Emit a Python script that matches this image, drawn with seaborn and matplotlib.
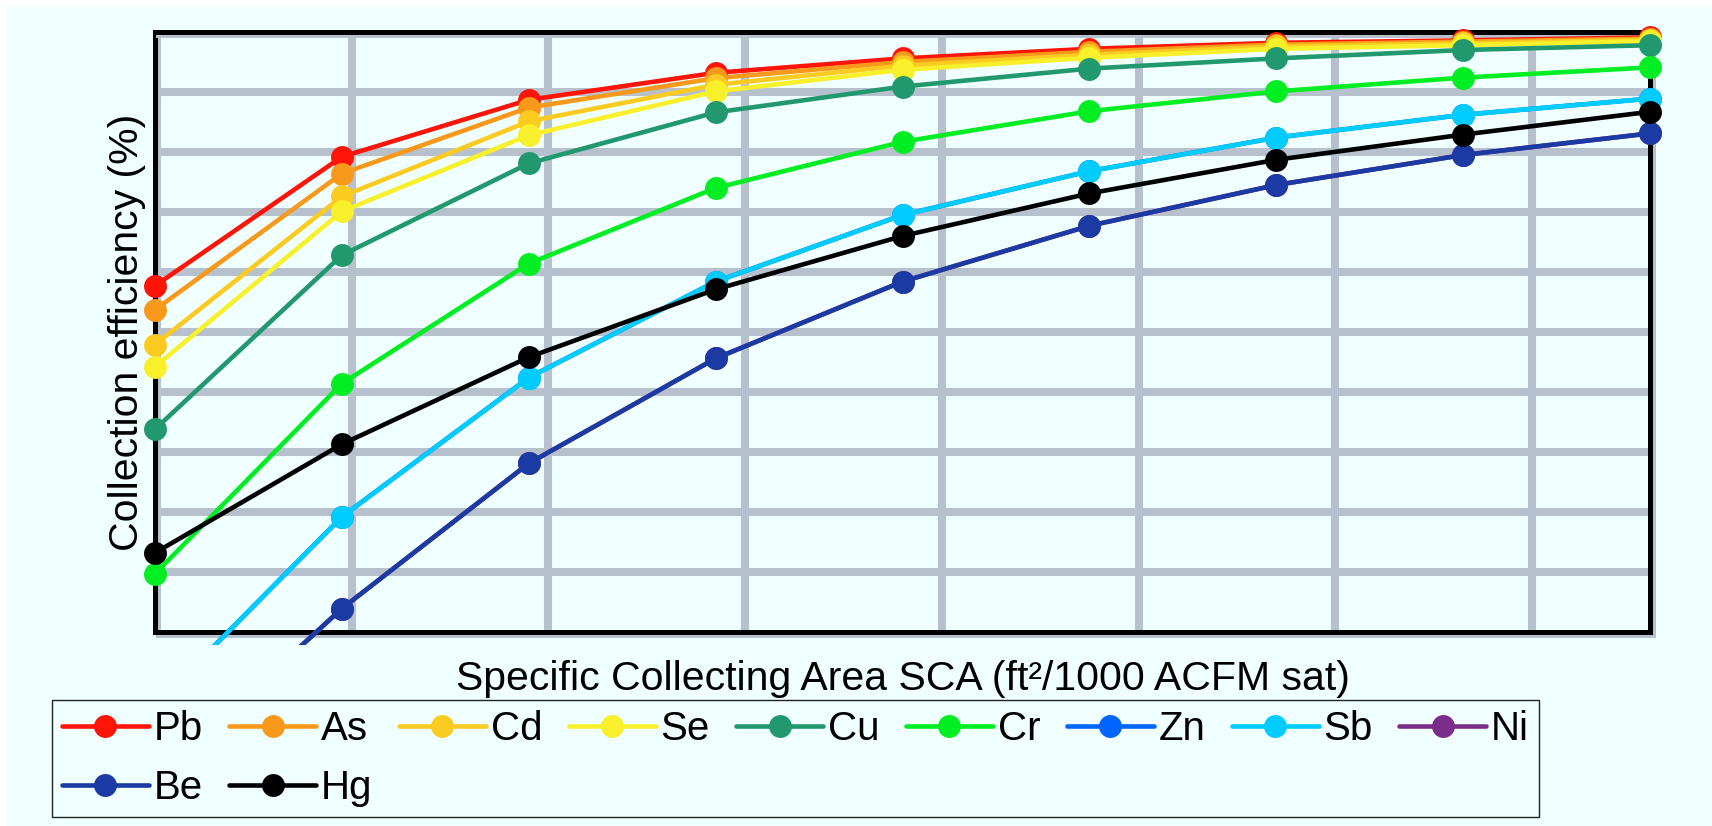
import numpy as np
import pandas as pd
import seaborn as sns
import matplotlib.pyplot as plt
import matplotlib.patheffects as pe
from matplotlib.lines import Line2D
from matplotlib.patches import Rectangle

# SCA steps (the original axis shows no tick labels)
sca_steps = [0, 1, 2, 3, 4, 5, 6, 7, 8]

metals = ['Pb', 'As', 'Cd', 'Se', 'Cu', 'Cr', 'Zn', 'Sb', 'Ni', 'Be', 'Hg']

# collection efficiency (%), one list per metal
eff_pb = [57.7, 79.2, 88.7, 93.2, 95.6, 97.2, 98.2, 98.6, 99.1]
eff_as = [53.7, 76.4, 87.4, 92.3, 95.0, 96.7, 97.9, 98.4, 98.9]
eff_cd = [47.9, 72.6, 85.1, 91.2, 94.4, 96.2, 97.6, 98.1, 98.7]
eff_se = [44.2, 70.1, 82.8, 90.1, 93.7, 95.7, 97.2, 97.8, 98.5]
eff_cu = [33.8, 62.8, 78.1, 86.6, 90.9, 93.9, 95.6, 97.0, 97.8]
eff_cr = [9.7, 41.4, 61.4, 74.0, 81.7, 86.8, 90.1, 92.4, 94.1]
eff_zn = [-12.3, 19.2, 42.4, 58.4, 69.5, 76.8, 82.4, 86.2, 88.9]   # hidden under Sb
eff_sb = [-12.3, 19.2, 42.4, 58.4, 69.5, 76.8, 82.4, 86.2, 88.9]
eff_ni = [-24.6, 3.9, 28.1, 45.6, 58.4, 67.7, 74.5, 79.5, 83.1]    # hidden under Be
eff_be = [-24.6, 3.9, 28.1, 45.6, 58.4, 67.7, 74.5, 79.5, 83.1]
eff_hg = [13.2, 31.3, 45.8, 57.1, 66.0, 73.1, 78.7, 82.9, 86.7]

series = [eff_pb, eff_as, eff_cd, eff_se, eff_cu, eff_cr,
          eff_zn, eff_sb, eff_ni, eff_be, eff_hg]

colors = {
    'Pb': '#FF1408', 'As': '#F8991C', 'Cd': '#FCCB22', 'Se': '#F8F02A',
    'Cu': '#22986E', 'Cr': '#00EE22', 'Zn': '#0064FF', 'Sb': '#00CCFF',
    'Ni': '#7B2D8A', 'Be': '#1C3AA3', 'Hg': '#000000',
}

BG = '#F0FFFF'
GRID = '#B7C1CD'

rows = []
for m, vals in zip(metals, series):
    for x, v in zip(sca_steps, vals):
        rows.append({'sca': x, 'eff': v, 'metal': m})
df = pd.DataFrame(rows)

sns.set_theme(style='white')
plt.rcParams['font.family'] = ['Liberation Sans', 'DejaVu Sans']
plt.rcParams['text.color'] = 'black'

fig = plt.figure(figsize=(17.12, 8.26), dpi=100)
fig.patch.set_facecolor('white')
fig.add_artist(Rectangle((6 / 1712, 0), 1, 819 / 826, transform=fig.transFigure,
                         facecolor=BG, edgecolor='none', zorder=-10))

ax = fig.add_axes([155 / 1712, 194 / 826, 1495 / 1712, 600 / 826])
ax.set_facecolor(BG)

sns.lineplot(data=df, x='sca', y='eff', hue='metal', hue_order=metals,
             palette=colors, marker='o', markersize=16.5, markeredgewidth=0,
             linewidth=3.3, errorbar=None, sort=False, legend=False, ax=ax)

# lines run a little past the bottom frame, markers overlap the frame
clip = Rectangle((-0.02, -0.0217), 1.04, 1.06, transform=ax.transAxes)
for ln in ax.lines:
    ln.set_clip_path(clip)
    ln.set_zorder(3)

ax.set_xlim(0, 8)
ax.set_ylim(0, 100)
ax.set_xticks(np.arange(1, 8) * 1.0527)
ax.set_yticks(np.arange(10, 100, 10))
ax.tick_params(length=0, labelbottom=False, labelleft=False)
ax.grid(True, color=GRID, linewidth=5.8)
ax.set_axisbelow(True)

for s in ax.spines.values():
    s.set_color('black')
    s.set_linewidth(3.6)
    s.set_path_effects([pe.SimpleLineShadow(offset=(2, -2), shadow_color=GRID, alpha=1),
                        pe.Normal()])

ax.set_xlabel('Specific Collecting Area SCA (ft²/1000 ACFM sat)', fontsize=29.5,
              labelpad=20, color='black')
ax.set_ylabel('Collection efficiency (%)', fontsize=29.5, labelpad=6.5, color='black')

# legend: row 1 Pb..Ni, row 2 Be, Hg (matplotlib fills column by column)
handles = {m: Line2D([], [], color=colors[m], marker='o', markersize=16.5,
                     markeredgewidth=0, linewidth=3.3) for m in metals}
leg_order = ['Pb', 'Be', 'As', 'Hg', 'Cd', 'Se', 'Cu', 'Cr', 'Zn', 'Sb', 'Ni']
leg = fig.legend([handles[m] for m in leg_order], leg_order, ncol=9,
                 loc='lower left', bbox_to_anchor=(51.7 / 1712, 9.3 / 826),
                 fontsize=29, handlelength=2.16, handletextpad=0.12,
                 columnspacing=0.655, borderpad=0.25, labelspacing=0.51,
                 frameon=True, fancybox=False, facecolor=BG, framealpha=1,
                 edgecolor='#222222', borderaxespad=0, labelcolor='black')
leg.get_frame().set_linewidth(1.0)

fig.savefig('out.png', dpi=100, facecolor=fig.get_facecolor())
